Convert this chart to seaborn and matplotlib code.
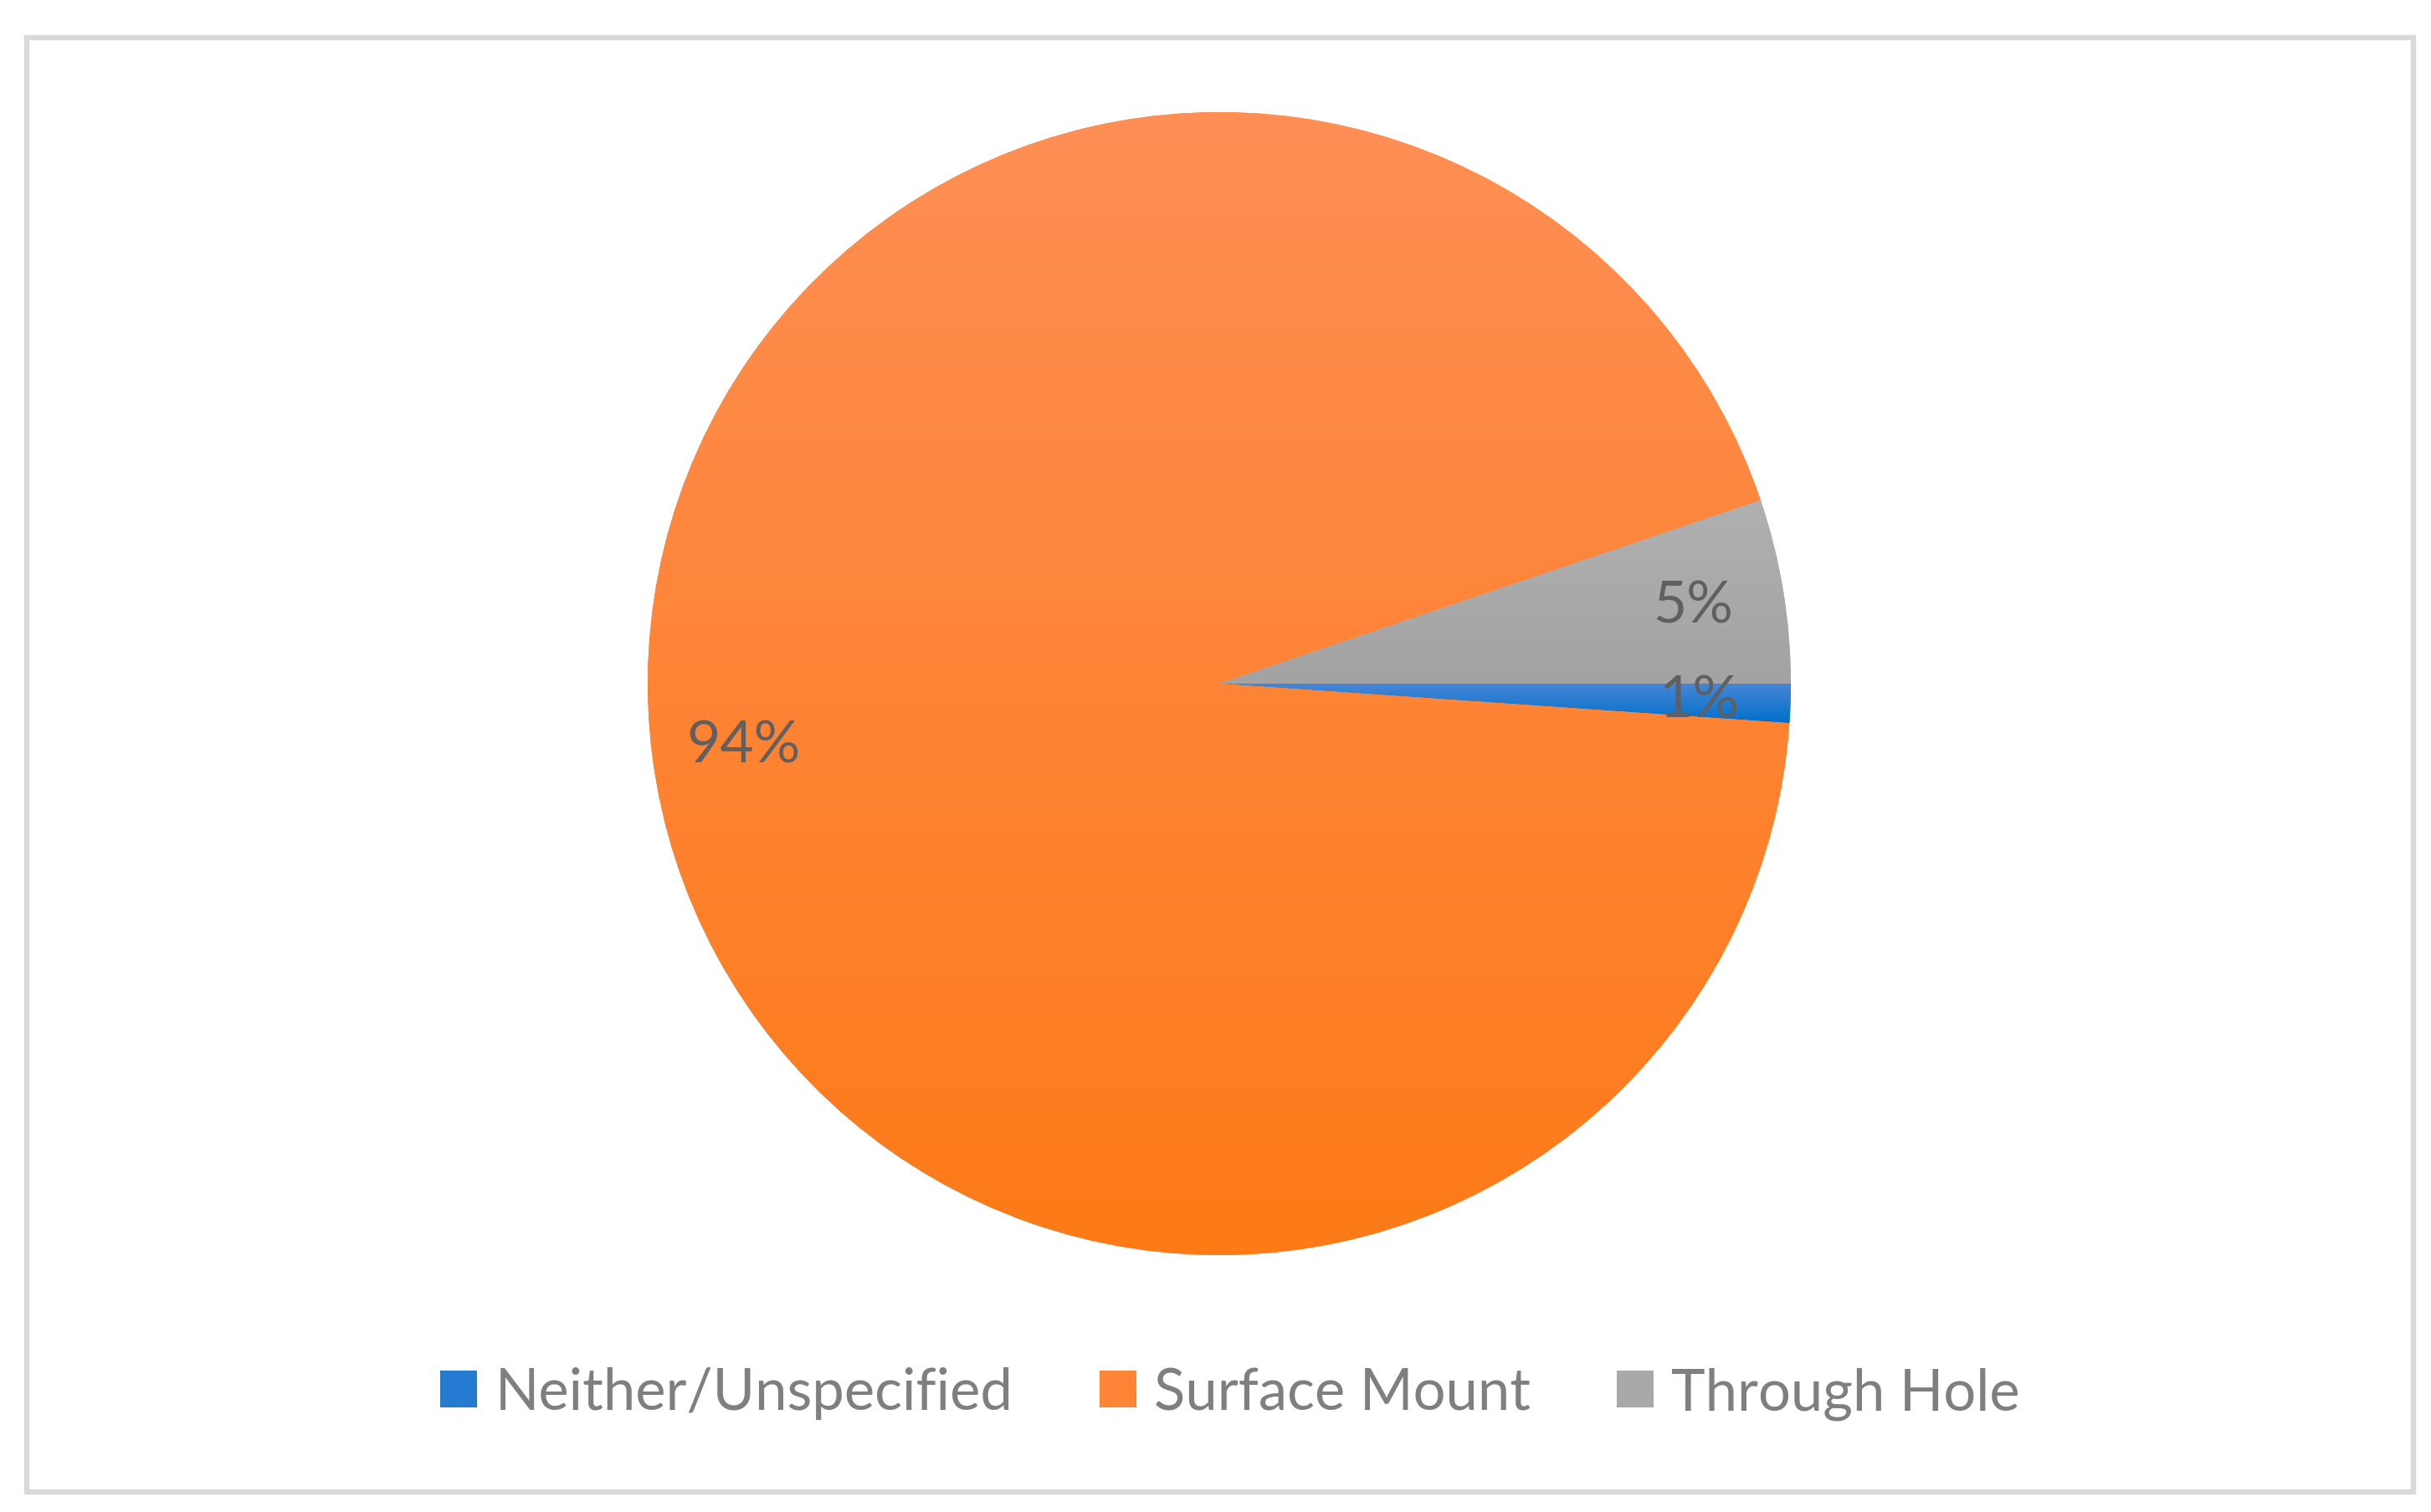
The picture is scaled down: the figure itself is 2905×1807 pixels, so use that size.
import matplotlib
matplotlib.use('Agg')
import matplotlib.pyplot as plt
import numpy as np
import seaborn as sns
from matplotlib.patches import Patch, Rectangle

# data (share of parts by mounting type)
categories = ['Neither/Unspecified', 'Surface Mount', 'Through Hole']
shares = [1.1, 93.7, 5.2]

# Excel style gradient fills: (top colour, bottom colour)
gradients = [('#4a86d4', '#0070cc'), ('#ff8f55', '#fd7a17'), ('#b0b0b0', '#a3a3a3')]

sns.set_theme(style='white')
plt.rcParams['font.family'] = ['Lato', 'DejaVu Sans']

W, H = 2905, 1808
fig = plt.figure(figsize=(W / 100, H / 100), dpi=100)
fig.patch.set_facecolor('white')

# chart area border
fig.patches.append(Rectangle((31.5 / W, 1 - 1783.5 / H), (2883.5 - 31.5) / W, (1783.5 - 45.5) / H,
                             transform=fig.transFigure, fill=False, edgecolor='#d9d9d9', linewidth=4.6))

# pie axes: centre (1457, 818) px, radius 683 px
cx, cy, r = 1457, 818, 683
ax = fig.add_axes([(cx - r) / W, (H - cy - r) / H, 2 * r / W, 2 * r / H])

mid_colors = [sns.blend_palette(g, n_colors=3)[1] for g in gradients]
wedges, texts, autotexts = ax.pie(
    shares, colors=mid_colors, startangle=0, counterclock=False,
    autopct='%1.0f%%', pctdistance=0.84, radius=1,
    wedgeprops=dict(linewidth=0),
    textprops=dict(color='#606060', fontsize=50),
)

# gradient fill clipped to each wedge
for w, g in zip(wedges, gradients):
    verts = w.get_path().vertices
    x0, x1 = verts[:, 0].min(), verts[:, 0].max()
    y0, y1 = verts[:, 1].min(), verts[:, 1].max()
    grad = np.array(sns.blend_palette(g, n_colors=256))[:, None, :]
    im = ax.imshow(grad, extent=[x0, x1, y0, y1], origin='upper', aspect='auto',
                   interpolation='bilinear', zorder=1.5)
    im.set_clip_path(w)
for t in autotexts:
    t.set_zorder(3)

ax.set_xlim(-1, 1)
ax.set_ylim(-1, 1)
ax.set_aspect('equal')
ax.axis('off')

# legend at the bottom
handles = [Patch(facecolor=c, edgecolor='none') for c in mid_colors]
leg = fig.legend(handles, categories, loc='center', bbox_to_anchor=(1470 / W, 1 - 1666 / H),
                 ncol=3, frameon=False, fontsize=49.5, labelcolor='#7f7f7f',
                 handlelength=0.63, handleheight=0.61, handletextpad=0.32, columnspacing=1.5)

# gradient on legend keys too
fig.canvas.draw()
inv = fig.transFigure.inverted()
for p, g in zip(leg.legend_handles, gradients):
    bb = p.get_window_extent().transformed(inv)
    kax = fig.add_axes([bb.x0, bb.y0, bb.width, bb.height])
    kax.imshow(np.array(sns.blend_palette(g, n_colors=64))[:, None, :], aspect='auto',
               interpolation='bilinear')
    kax.axis('off')

fig.savefig('out.png', dpi=100, facecolor='white')
